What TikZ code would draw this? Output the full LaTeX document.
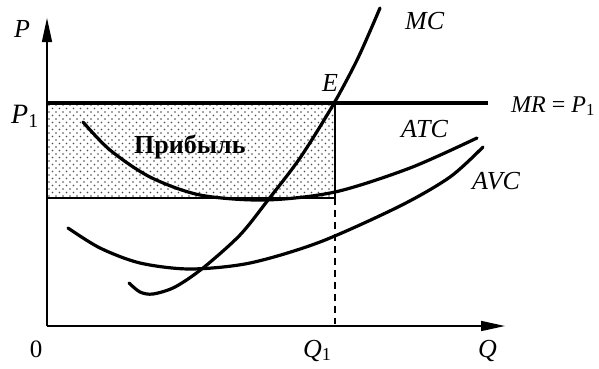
\documentclass[tikz,border=0pt]{standalone}
\usepackage{fontspec}
\setmainfont{Liberation Serif}
\usetikzlibrary{arrows.meta}
\begin{document}
\begin{tikzpicture}[x=1pt,y=-1pt,
  curve/.style={line width=3.2pt,line cap=round},
  axisline/.style={line width=1.6pt},
  lbl/.style={inner sep=0pt,font=\fontsize{26}{30}\selectfont\itshape},
  axarrow/.style={-{Triangle[length=24pt,width=10pt]}}]
\useasboundingbox (0,0) rectangle (599,368);
% coordinates
\coordinate (O) at (47,326);
\coordinate (Ytip) at (47,18);
\coordinate (Xtip) at (505,326);
\coordinate (RTL) at (47,103);
\coordinate (RBR) at (335,198);
\coordinate (MRend) at (488,103);
\coordinate (Q1top) at (335,198);
\coordinate (Q1bot) at (335,324);
% dotted fill
\begin{scope}
  \clip (RTL) rectangle (RBR);
  \foreach \i in {0,...,42}{
    \foreach \j in {0,...,14}{
      \fill[black!70] (49+7*\i,105+7*\j) circle (0.85);
      \fill[black!70] (52.5+7*\i,108.5+7*\j) circle (0.85);
    }
  }
\end{scope}
\draw[line width=1.6pt] (RTL) rectangle (RBR);
\draw[line width=3.2pt] (RTL) -- (MRend);
\draw[line width=1.6pt,dash pattern=on 7pt off 5pt] (Q1top) -- (Q1bot);
% axes
\draw[axisline,axarrow] (O) -- (Ytip);
\draw[axisline,axarrow] (O) -- (Xtip);
% curves
\draw[curve] plot[smooth] coordinates {(83,122) (110,150) (150,177) (200,195) (265,200) (335,192) (410,168) (477,138)};
\draw[curve] plot[smooth] coordinates {(68,228) (100,248) (140,263) (190,269) (250,263) (320,242) (400,206) (450,177) (483,147)};
\draw[curve] plot[smooth] coordinates {(129,283) (140,292) (153,294) (175,287) (203,268) (240,235) (268,200) (300,158) (333,105) (358,58) (380,8)};
% labels
\node[lbl,anchor=base west] (lP) at (14,37) {P};
\node[lbl,anchor=base west,font=\fontsize{28}{32}\selectfont\itshape] (lP1) at (11,123) {P\textup{\textsubscript{1}}};
\node[lbl,anchor=base,font=\fontsize{25}{28}\selectfont] (l0) at (36,357) {0};
\node[lbl,anchor=base west] (lQ1) at (303,357) {Q\textup{\textsubscript{1}}};
\node[lbl,anchor=base west] (lQ) at (478,357) {Q};
\node[lbl,anchor=base west] (lMC) at (405,29) {MC};
\node[lbl,anchor=base west] (lE) at (322,91) {E};
\node[lbl,anchor=base west,font=\fontsize{24}{28}\selectfont\itshape] (lMR) at (511,112) {MR \textup{=} P\textup{\textsubscript{1}}};
\node[lbl,anchor=base west] (lATC) at (401,137) {ATC};
\node[lbl,anchor=base west] (lAVC) at (472,189) {AVC};
\node[inner sep=0pt,anchor=base west,font=\fontsize{26}{30}\selectfont\bfseries] (lprofit) at (134,153) {Прибыль};
\end{tikzpicture}
\end{document}
